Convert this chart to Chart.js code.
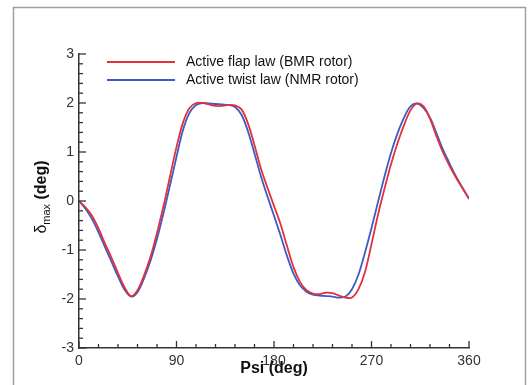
<!DOCTYPE html>
<html>
<head>
<meta charset="utf-8">
<script src="https://cdn.jsdelivr.net/npm/chart.js@4"></script>
<style>
  html, body { margin: 0; padding: 0; background: #fff; }
  #wrap { position: relative; width: 528px; height: 385px; }
</style>
</head>
<body>
<div id="wrap"><canvas id="chart" width="528" height="385"></canvas></div>
<script>
// azimuth (deg)
let psi = [0, 6, 12, 18, 24, 30, 36, 42, 48, 54, 60, 66, 72, 78, 84, 90, 96, 102, 108, 114,
  120, 126, 132, 138, 144, 150, 156, 162, 168, 174, 180, 186, 192, 198, 204, 210, 216, 222,
  228, 234, 240, 246, 252, 258, 264, 270, 276, 282, 288, 294, 300, 306, 312, 318, 324, 330,
  336, 342, 348, 354, 360];

let flapLaw = [0, -0.13, -0.3, -0.56, -0.87, -1.16, -1.47, -1.76, -1.94, -1.82, -1.52, -1.14,
  -0.65, -0.1, 0.5, 1.1, 1.6, 1.9, 2.0, 2.0, 1.97, 1.94, 1.94, 1.96, 1.95, 1.87, 1.58, 1.14,
  0.66, 0.27, -0.1, -0.47, -0.92, -1.35, -1.65, -1.82, -1.89, -1.9, -1.87, -1.88, -1.93,
  -1.97, -1.97, -1.8, -1.45, -0.88, -0.28, 0.25, 0.75, 1.18, 1.55, 1.85, 1.99, 1.93, 1.68, 1.32,
  0.99, 0.72, 0.48, 0.26, 0.04];

let twistLaw = [0, -0.16, -0.37, -0.64, -0.94, -1.24, -1.54, -1.81, -1.95, -1.86, -1.58, -1.22,
  -0.77, -0.25, 0.32, 0.9, 1.45, 1.8, 1.96, 2.0, 1.99, 1.98, 1.97, 1.96, 1.92, 1.76, 1.42, 0.97,
  0.5, 0.09, -0.3, -0.7, -1.12, -1.48, -1.72, -1.85, -1.91, -1.93, -1.94, -1.95, -1.97,
  -1.95, -1.8, -1.5, -1.05, -0.55, -0.02, 0.5, 0.98, 1.38, 1.7, 1.93, 1.99, 1.9, 1.7, 1.38,
  1.05, 0.77, 0.5, 0.27, 0.05];

let seriesNames = ["Active flap law (BMR rotor)", "Active twist law (NMR rotor)"];
let colors = ["#e3303c", "#3a5cc4"];

let xTicks = [0, 90, 180, 270, 360];
let yTicks = [-3, -2, -1, 0, 1, 2, 3];

function toPoints(ys) {
  return psi.map((p, i) => ({ x: p, y: ys[i] }));
}

const axisColor = "#333";

const decor = {
  id: "decor",
  beforeDraw(chart) {
    const ctx = chart.ctx;
    ctx.save();
    ctx.fillStyle = "#fff";
    ctx.fillRect(0, 0, chart.width, chart.height);
    ctx.strokeStyle = "#a0a0a0";
    ctx.lineWidth = 1.5;
    ctx.strokeRect(13.5, 7.5, 512, 400);
    ctx.restore();
  },
  afterDraw(chart) {
    const ctx = chart.ctx;
    const xs = chart.scales.x, ys = chart.scales.y;
    const area = chart.chartArea;
    ctx.save();
    ctx.strokeStyle = axisColor;
    ctx.lineWidth = 1.3;
    // inward ticks on x axis
    for (let v = 0; v <= 360; v += 18) {
      const px = xs.getPixelForValue(v);
      const len = v % 90 === 0 ? 7 : 4;
      ctx.beginPath();
      ctx.moveTo(px, area.bottom);
      ctx.lineTo(px, area.bottom - len);
      ctx.stroke();
    }
    // inward ticks on y axis
    for (let i = -15; i <= 15; i++) {
      const v = i / 5;
      const py = ys.getPixelForValue(v);
      const len = i % 5 === 0 ? 7 : 4;
      ctx.beginPath();
      ctx.moveTo(area.left, py);
      ctx.lineTo(area.left + len, py);
      ctx.stroke();
    }

    // legend
    ctx.lineWidth = 2;
    ctx.font = "14px 'Liberation Sans', Arial, sans-serif";
    ctx.fillStyle = "#111";
    ctx.textBaseline = "middle";
    ctx.textAlign = "left";
    seriesNames.forEach((name, i) => {
      const y = 62 + i * 18;
      ctx.strokeStyle = colors[i];
      ctx.beginPath();
      ctx.moveTo(107, y);
      ctx.lineTo(175, y);
      ctx.stroke();
      ctx.fillText(name, 186, y);
    });

    // x title
    ctx.font = "bold 16px 'Liberation Sans', Arial, sans-serif";
    ctx.textAlign = "center";
    ctx.fillText("Psi (deg)", (area.left + area.right) / 2, 369);

    // y title with subscript
    ctx.translate(42, 197);
    ctx.rotate(-Math.PI / 2);
    ctx.textAlign = "left";
    const fDelta = "16px 'Liberation Sans', Arial, sans-serif";
    const fSub = "11px 'Liberation Sans', Arial, sans-serif";
    const fDeg = "bold 16px 'Liberation Sans', Arial, sans-serif";
    ctx.font = fDelta; const w1 = ctx.measureText("δ").width;
    ctx.font = fSub; const w2 = ctx.measureText("max").width;
    ctx.font = fDeg; const w3 = ctx.measureText(" (deg)").width;
    let x0 = -(w1 + w2 + w3) / 2;
    ctx.font = fDelta; ctx.fillText("δ", x0, 0);
    ctx.font = fSub; ctx.fillText("max", x0 + w1, 5);
    ctx.font = fDeg; ctx.fillText(" (deg)", x0 + w1 + w2, 0);
    ctx.restore();
  }
};

new Chart("chart", {
  type: "line",
  data: {
    datasets: [
      {
        label: seriesNames[0],
        data: toPoints(flapLaw),
        borderColor: colors[0],
        borderWidth: 1.8,
        pointRadius: 0,
        tension: 0.35,
      },
      {
        label: seriesNames[1],
        data: toPoints(twistLaw),
        borderColor: colors[1],
        borderWidth: 1.8,
        pointRadius: 0,
        tension: 0.35,
      },
    ],
  },
  options: {
    responsive: false,
    animation: false,
    layout: { padding: { top: 54, right: 59, left: 0, bottom: 0 } },
    plugins: {
      legend: { display: false },
      tooltip: { enabled: false },
    },
    scales: {
      x: {
        type: "linear",
        min: 0,
        max: 360,
        afterBuildTicks: (s) => { s.ticks = xTicks.map((v) => ({ value: v })); },
        afterFit: (s) => { s.height = 37; },
        grid: { display: false, drawTicks: false },
        border: { display: true, color: axisColor, width: 1.5 },
        ticks: {
          padding: 5,
          color: "#333",
          font: { family: "'Liberation Sans', Arial, sans-serif", size: 14 },
        },
      },
      y: {
        min: -3,
        max: 3,
        afterBuildTicks: (s) => { s.ticks = yTicks.map((v) => ({ value: v })); },
        afterFit: (s) => { s.width = 79; },
        grid: { display: false, drawTicks: false },
        border: { display: true, color: axisColor, width: 1.5 },
        ticks: {
          padding: 5,
          color: "#333",
          font: { family: "'Liberation Sans', Arial, sans-serif", size: 14 },
        },
      },
    },
  },
  plugins: [decor],
});
</script>
</body>
</html>
